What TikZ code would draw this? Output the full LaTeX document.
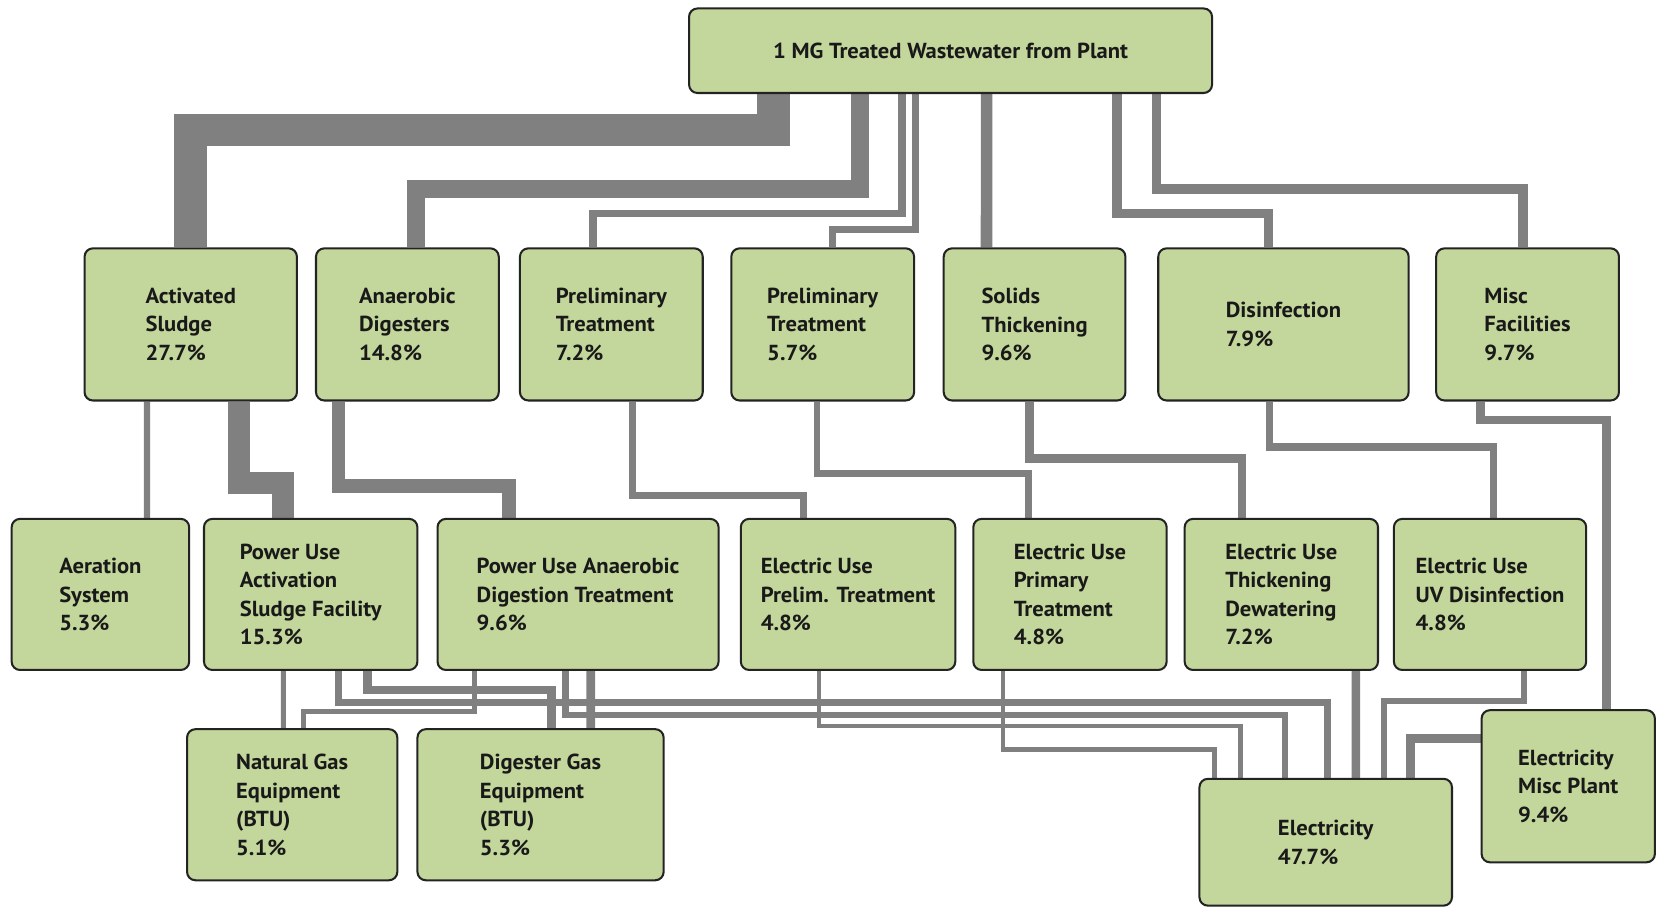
\documentclass[tikz,border=0pt]{standalone}
\usepackage{fontspec}
\setmainfont{PT Sans}[FakeStretch=1.04]
\usetikzlibrary{backgrounds}

\definecolor{boxgreen}{RGB}{195,214,155}
\definecolor{flowgray}{RGB}{128,128,128}
\definecolor{boxline}{RGB}{35,35,35}

\tikzset{
	stage/.style={draw=boxline, line width=1.1pt, fill=boxgreen, rounded corners=4.5pt,
		align=left, inner sep=0pt, text=black!90,
		font=\fontsize{11.7}{15.4}\selectfont\bfseries},
	rowa/.style={stage, minimum height=2.88cm},
	rowb/.style={stage, minimum height=2.86cm},
	feed/.style={draw=flowgray, line width=#1*0.569pt},
}

\begin{document}
\begin{tikzpicture}[x=0.02cm, y=-0.02cm]
		\useasboundingbox (0,0) rectangle (1568,858);

		% Source
		\node[stage, minimum width=9.9cm, minimum height=1.6cm] (plant) at (899.5,48) {1 MG Treated Wastewater from Plant};

		% First row: process areas
		\node[rowa, minimum width=4.02cm] (sludge)  at (180.5,307)  {Activated\\Sludge\\27.7\%};
		\node[rowa, minimum width=3.46cm] (digest)  at (385.5,307)  {Anaerobic\\Digesters\\14.8\%};
		\node[rowa, minimum width=3.46cm] (prelima) at (578.5,307)  {Preliminary\\Treatment\\7.2\%};
		\node[rowa, minimum width=3.46cm] (prelimb) at (778.5,307)  {Preliminary\\Treatment\\5.7\%};
		\node[rowa, minimum width=3.44cm] (solids)  at (979,307)    {Solids\\Thickening\\9.6\%};
		\node[rowa, minimum width=4.74cm] (disinf)  at (1214.5,307) {Disinfection\\7.9\%};
		\node[rowa, minimum width=3.46cm] (miscfac) at (1445.5,307) {Misc\\Facilities\\9.7\%};

		% Second row: power use
		\node[rowb, minimum width=3.36cm] (aeration) at (95,562.5)    {Aeration\\System\\5.3\%};
		\node[rowb, minimum width=4.04cm] (pwrsludge) at (294,562.5)  {Power Use\\Activation\\Sludge Facility\\15.3\%};
		\node[rowb, minimum width=5.32cm] (pwrdigest) at (547,562.5)  {Power Use Anaerobic\\Digestion Treatment\\9.6\%};
		\node[rowb, minimum width=4.06cm] (elprelim)  at (802.5,562.5) {Electric Use\\Prelim. Treatment\\4.8\%};
		\node[rowb, minimum width=3.66cm] (elprimary) at (1012.5,562.5) {Electric Use\\Primary\\Treatment\\4.8\%};
		\node[rowb, minimum width=3.66cm] (elthick)   at (1212.5,562.5) {Electric Use\\Thickening\\Dewatering\\7.2\%};
		\node[rowb, minimum width=3.64cm] (eluv)      at (1410,562.5)  {Electric Use\\UV Disinfection\\4.8\%};

		% Third row: energy sources
		\node[rowb, minimum width=3.98cm] (natgas) at (276.5,761.5) {Natural Gas\\Equipment\\(BTU)\\5.1\%};
		\node[rowb, minimum width=4.66cm] (diggas) at (511.5,761.5) {Digester Gas\\Equipment\\(BTU)\\5.3\%};
		\node[stage, minimum width=4.78cm, minimum height=2.4cm] (elec) at (1254.5,797) {Electricity\\47.7\%};
		\node[rowa, minimum width=3.28cm] (miscplant) at (1484,744) {Electricity\\Misc Plant\\9.4\%};

		\begin{scope}[on background layer]
			% Plant to process areas
			\draw[feed=31]  ([shift={(81,0)}]plant.south west)    -- ++(0,34)  -| ([shift={(101,0)}]sludge.north west);
			\draw[feed=17]  ([shift={(163,0)}]plant.south west)   -- ++(0,90)  -| ([shift={(96,0)}]digest.north west);
			\draw[feed=7]   ([shift={(202.5,0)}]plant.south west) -- ++(0,113) -| ([shift={(70,0)}]prelima.north west);
			\draw[feed=6.5] ([shift={(215.5,0)}]plant.south west) -- ++(0,128) -| ([shift={(97,0)}]prelimb.north west);
			\draw[feed=11]  ([shift={(282.5,0)}]plant.south west) -- ([shift={(41.5,0)}]solids.north west);
			\draw[feed=9]   ([shift={(406,0)}]plant.south west)   -- ++(0,113) -| ([shift={(105.5,0)}]disinf.north west);
			\draw[feed=9]   ([shift={(443.5,0)}]plant.south west) -- ++(0,90)  -| ([shift={(83,0)}]miscfac.north west);

			% Process areas to power use
			\draw[feed=6]    ([shift={(60,0)}]sludge.south west)    -- ([shift={(129,0)}]aeration.north west);
			\draw[feed=21]   ([shift={(147,0)}]sludge.south west)   -- ++(0,77)   -| ([shift={(76,0)}]pwrsludge.north west);
			\draw[feed=12.5] ([shift={(22.4,0)}]digest.south west)  -- ++(0,80)   -| ([shift={(68.6,0)}]pwrdigest.north west);
			\draw[feed=6.5]  ([shift={(107.5,0)}]prelima.south west) -- ++(0,89)  -| ([shift={(60,0)}]elprelim.north west);
			\draw[feed=6.5]  ([shift={(82,0)}]prelimb.south west)   -- ++(0,68)   -| ([shift={(53.4,0)}]elprimary.north west);
			\draw[feed=8]    ([shift={(82,0)}]solids.south west)    -- ++(0,54)   -| ([shift={(55,0)}]elthick.north west);
			\draw[feed=7]    ([shift={(106,0)}]disinf.south west)   -- ++(0,43)   -| ([shift={(95,0)}]eluv.north west);
			\draw[feed=8]    ([shift={(43,0)}]miscfac.south west)   -- ++(0,17.5) -| ([shift={(119,0)}]miscplant.north west);

			% Power use to energy sources
			\draw[feed=4.7] ([shift={(76,0)}]pwrsludge.south west)  -- ([shift={(92,0)}]natgas.north west);
			\draw[feed=4.7] ([shift={(36,0)}]pwrdigest.south west)  -- ++(0,38)   -| ([shift={(111,0)}]natgas.north west);
			\draw[feed=8.4] ([shift={(156,0)}]pwrsludge.south west) -- ++(0,18)   -| ([shift={(128,0)}]diggas.north west);
			\draw[feed=8.4] ([shift={(146,0)}]pwrdigest.south west) -- ([shift={(165,0)}]diggas.north west);
			\draw[feed=6.3] ([shift={(128,0)}]pwrsludge.south west) -- ++(0,30)   -| ([shift={(122,0)}]elec.north west);
			\draw[feed=6.3] ([shift={(122,0)}]pwrdigest.south west) -- ++(0,41.6) -| ([shift={(82,0)}]elec.north west);
			\draw[feed=4.5] ([shift={(75,0)}]elprelim.south west)   -- ++(0,52)   -| ([shift={(40,0)}]elec.north west);
			\draw[feed=4.5] ([shift={(29,0)}]elprimary.south west)  -- ++(0,74)   -| ([shift={(15,0)}]elec.north west);
			\draw[feed=8]   ([shift={(163,0)}]elthick.south west)   -- ([shift={(149,0)}]elec.north west);
			\draw[feed=5.8] ([shift={(124,0)}]eluv.south west)      -- ++(0,28)   -| ([shift={(175.6,0)}]elec.north west);
			\draw[feed=8.6] ([shift={(0,-45)}]miscplant.west)       -| ([shift={(201,0)}]elec.north west);
		\end{scope}
	\end{tikzpicture}
\end{document}
